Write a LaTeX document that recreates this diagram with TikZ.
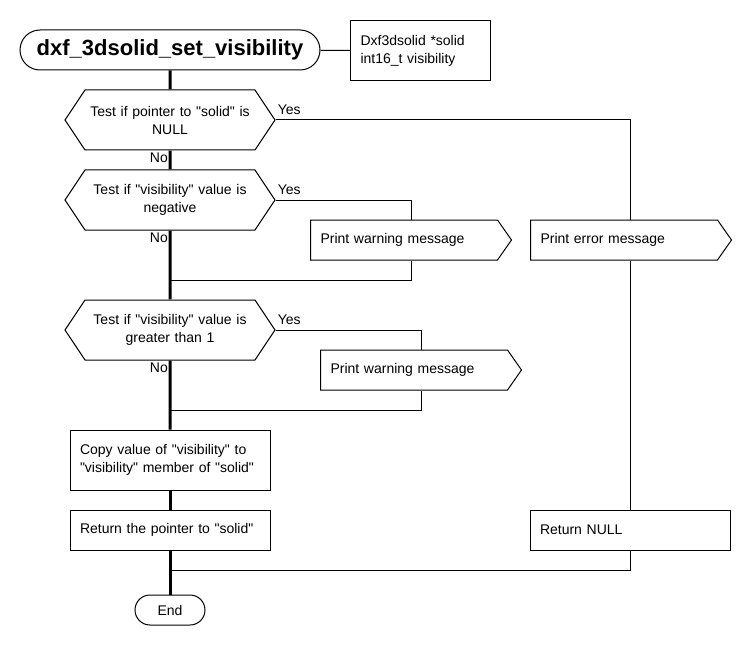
\documentclass[tikz,border=0pt]{standalone}
\usepackage{fontspec}
\setmainfont{Liberation Sans}
\usetikzlibrary{shapes.symbols}
\newcommand{\qt}[1]{\textquotedbl#1\textquotedbl}
\tikzset{every node/.style={font=\fontsize{14}{18}\selectfont}}
\tikzset{decision/.style={draw, line width=1pt, shape=signal, signal to=east and west,
  signal pointer angle=112.6, minimum height=60pt, text width=170pt,
  inner xsep=0pt, inner ysep=0pt, align=center}}
\tikzset{action/.style={draw, line width=1pt, rectangle, minimum height=40pt,
  text width=180pt, inner xsep=10pt, align=left}}
\tikzset{message/.style={draw, line width=1pt, shape=signal, signal to=east,
  signal pointer angle=110, minimum height=40pt, text width=167pt,
  inner xsep=10pt, inner ysep=0pt, align=left, anchor=west}}
\tikzset{flow/.style={line width=3pt}}
\tikzset{branch/.style={line width=1pt}}
\tikzset{yes/.style={anchor=south west, inner sep=2pt, yshift=3pt}}
\tikzset{no/.style={anchor=north east, inner sep=2pt}}

\begin{document}
\begin{tikzpicture}[x=1pt, y=-1pt]
      \useasboundingbox (0,0) rectangle (750,650);
      \node [draw, line width=1pt, rounded corners=20pt, minimum width=300pt, minimum height=40pt,
        font=\bfseries\fontsize{22}{26}\selectfont] (title) at (170,50) {dxf\_3dsolid\_set\_visibility};
      \node [draw, line width=1pt, anchor=north west, minimum height=60pt, text width=120pt,
        inner xsep=10pt, align=left] (param) at (350,20) {Dxf3dsolid *solid\\int16\_t visibility};
      \node [decision] (isnull) at (170,120) {Test if pointer to \qt{solid} is\\NULL};
      \node [decision] (isneg) at (170,200) {Test if \qt{visibility} value is\\negative};
      \node [decision] (isbig) at (170,330) {Test if \qt{visibility} value is\\greater than 1};
      \node [message] (warnneg) at (310,240) {Print warning message};
      \node [message] (warnbig) at (320,370) {Print warning message};
      \node [message] (errmsg) at (530,240) {Print error message};
      \node [action, minimum height=60pt] (copy) at (170,460) {Copy value of \qt{visibility} to\\\qt{visibility} member of \qt{solid}};
      \node [action] (retsolid) at (170,530) {Return the pointer to \qt{solid}};
      \node [action] (retnull) at (630,530) {Return NULL};
      \node [draw, line width=1pt, rounded corners=15pt, minimum width=70pt, minimum height=30pt] (stop) at (170,610) {End};
      \coordinate (join1) at (170,280);
      \coordinate (join2) at (170,410);
      \coordinate (join3) at (170,570);
      % main line
      \draw [flow] (title) -- (isnull);
      \draw [flow] (isnull) -- (isneg);
      \draw [flow] (isneg) -- (isbig);
      \draw [flow] (isbig) -- (copy);
      \draw [flow] (copy) -- (retsolid);
      \draw [flow] (retsolid) -- (stop);
      % branches
      \draw [branch] (title) -- (param);
      \draw [branch] (isnull.east) -| (errmsg.north -| retnull.north);
      \draw [branch] (errmsg.south -| retnull.north) -- (retnull.north);
      \draw [branch] (retnull.south) |- (join3);
      \draw [branch] (isneg.east) -| ([xshift=7pt]warnneg.north);
      \draw [branch] ([xshift=7pt]warnneg.south) |- (join1);
      \draw [branch] (isbig.east) -| ([xshift=7pt]warnbig.north);
      \draw [branch] ([xshift=7pt]warnbig.south) |- (join2);
      \node [yes] at (isnull.east) {Yes};
      \node [yes] at (isneg.east) {Yes};
      \node [yes] at (isbig.east) {Yes};
      \node [no] at (isnull.south) {No};
      \node [no] at (isneg.south) {No};
      \node [no] at (isbig.south) {No};
    \end{tikzpicture}
\end{document}
